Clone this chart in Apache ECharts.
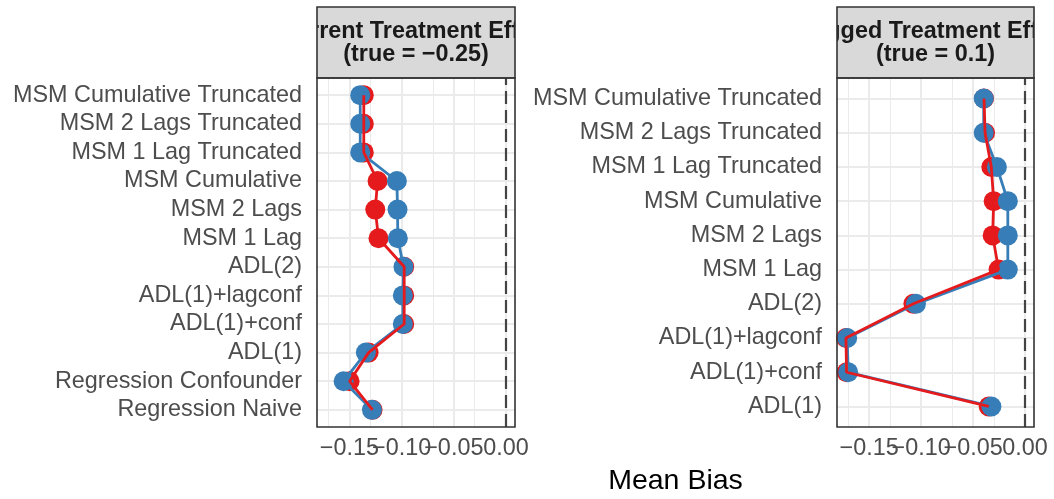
<!DOCTYPE html>
<html>
<head>
<meta charset="utf-8">
<script src="https://cdn.jsdelivr.net/npm/echarts@6.0.0/dist/echarts.min.js"></script>
<style>html,body{margin:0;padding:0;background:#fff}#chart{width:1054px;height:499px}</style>
</head>
<body>
<div id="chart"></div>
<script>
(()=>{
    "use strict";
    // categories listed bottom -> top
    const leftCategories = ["Regression Naive","Regression Confounder","ADL(1)","ADL(1)+conf","ADL(1)+lagconf","ADL(2)","MSM 1 Lag","MSM 2 Lags","MSM Cumulative","MSM 1 Lag Truncated","MSM 2 Lags Truncated","MSM Cumulative Truncated"];
    const leftRed  = [-0.1278,-0.1498,-0.1316,-0.0975,-0.0975,-0.0975,-0.1221,-0.1252,-0.1230,-0.1362,-0.1362,-0.1362];
    const leftBlue = [-0.1284,-0.1555,-0.1342,-0.0988,-0.0988,-0.0982,-0.1036,-0.1039,-0.1045,-0.1396,-0.1396,-0.1396];

    const rightCategories = ["ADL(1)","ADL(1)+conf","ADL(1)+lagconf","ADL(2)","MSM 1 Lag","MSM 2 Lags","MSM Cumulative","MSM 1 Lag Truncated","MSM 2 Lags Truncated","MSM Cumulative Truncated"];
    const rightRed  = [-0.0350,-0.1718,-0.1724,-0.1075,-0.0255,-0.0312,-0.0302,-0.0325,-0.0385,-0.0395];
    const rightBlue = [-0.0324,-0.1702,-0.1712,-0.1050,-0.0166,-0.0166,-0.0166,-0.0271,-0.0398,-0.0398];

    const panelTitles = [["Current Treatment Effect","(true = \u22120.25)"],["Lagged Treatment Effect","(true = 0.1)"]];
    const xMajor = [-0.15,-0.10,-0.05,0];
    const xMinor = [-0.175,-0.125,-0.075,-0.025];
    const xTickLabels = ["\u22120.15","\u22120.10","\u22120.05","0.00"];
    const refLine = 0;
    const xLimits = [-0.181, 0.0086];
    const axisTitle = "Mean Bias";

    const RED = "#E41A1C", BLUE = "#377EB8";
    const FONT = '"Liberation Sans", Arial, Helvetica, sans-serif';
    const panels = [
        {left:317, right:515, cats:leftCategories, red:leftRed, blue:leftBlue},
        {left:837, right:1034, cats:rightCategories, red:rightRed, blue:rightBlue}
    ];
    const TOP = 78, BOTTOM = 427, STRIP_TOP = 7;

    const pts = vals => vals.map((v,i)=>[v,i]);
    const tickFmt = v => {
        const k = xMajor.findIndex(m => Math.abs(m - v) < 1e-9);
        return k < 0 ? "" : xTickLabels[k];
    };
    // the tick labels touch each other in the original, so they are split over two
    // stacked axes (even / odd breaks) to stop ECharts from dropping any of them
    const evenBreaks = xMajor.filter((v,k) => k % 2 === 0);
    const oddBreaks = xMajor.filter((v,k) => k % 2 === 1);
    const labelStyle = {color:"#4D4D4D", fontSize:23.4, fontFamily:FONT, hideOverlap:false, showMinLabel:true, showMaxLabel:true};

    let grids = [], xAxes = [], yAxes = [], series = [], graphics = [];
    panels.forEach((p, i) => {
        const n = p.cats.length;
        const idx = p.cats.map((c,k)=>k);
        grids.push({left:p.left, width:p.right-p.left, top:TOP, height:BOTTOM-TOP, containLabel:false});
        xAxes.push({gridIndex:i, type:"value", min:xLimits[0], max:xLimits[1],
            axisLine:{show:false}, splitLine:{show:false},
            axisTick:{show:true, length:7, customValues:xMajor, lineStyle:{color:"#333333", width:1.6}},
            axisLabel:Object.assign({customValues:evenBreaks, formatter:tickFmt, margin:10}, labelStyle)});
        yAxes.push({gridIndex:i, type:"value", min:-0.6, max:n-0.4,
            axisLine:{show:false}, splitLine:{show:false},
            axisTick:{show:true, length:7, customValues:idx, lineStyle:{color:"#333333", width:1.6}},
            axisLabel:Object.assign({customValues:idx, formatter:v => p.cats[Math.round(v)] || "", margin:15}, labelStyle)});

        const gridLines = []
            .concat(xMinor.map(v => ({xAxis:v, lineStyle:{color:"#EBEBEB", width:1, type:"solid"}})))
            .concat(xMajor.map(v => ({xAxis:v, lineStyle:{color:"#EBEBEB", width:2, type:"solid"}})))
            .concat(idx.map(v => ({yAxis:v, lineStyle:{color:"#EBEBEB", width:2, type:"solid"}})))
            .concat([{xAxis:refLine, lineStyle:{color:"#444444", width:2.2, type:[13,6]}}]);

        series.push({type:"scatter", xAxisIndex:i, yAxisIndex:i, data:pts(p.red), symbolSize:20, z:2,
            itemStyle:{color:RED, opacity:1}, silent:true,
            markLine:{z:1, silent:true, symbol:["none","none"], label:{show:false}, animation:false, data:gridLines}});
        series.push({type:"scatter", xAxisIndex:i, yAxisIndex:i, data:pts(p.blue), symbolSize:20, z:3,
            itemStyle:{color:BLUE, opacity:1}, silent:true});
        series.push({type:"line", xAxisIndex:i, yAxisIndex:i, data:pts(p.blue), symbol:"none", z:4, clip:false,
            lineStyle:{color:BLUE, width:2.8}, silent:true});
        series.push({type:"line", xAxisIndex:i, yAxisIndex:i, data:pts(p.red), symbol:"none", z:5, clip:false,
            lineStyle:{color:RED, width:2.8}, silent:true});

        // facet strip
        const w = p.right - p.left, cx = (p.left + p.right) / 2;
        graphics.push({type:"rect", z:10, shape:{x:p.left, y:STRIP_TOP, width:w, height:TOP-STRIP_TOP}, style:{fill:"#D9D9D9"}});
        graphics.push({type:"text", z:11, style:{text:panelTitles[i][0], x:cx, y:32, fill:"#1A1A1A",
            font:"bold 23.4px " + FONT, align:"center", verticalAlign:"middle", textAlign:"center", textVerticalAlign:"middle"}});
        graphics.push({type:"text", z:11, style:{text:panelTitles[i][1], x:cx, y:55, fill:"#1A1A1A",
            font:"bold 23.4px " + FONT, align:"center", verticalAlign:"middle", textAlign:"center", textVerticalAlign:"middle"}});
        graphics.push({type:"rect", z:12, shape:{x:p.left-90, y:0, width:90, height:TOP-1}, style:{fill:"#FFFFFF"}});
        graphics.push({type:"rect", z:12, shape:{x:p.right, y:0, width:90, height:TOP-1}, style:{fill:"#FFFFFF"}});
        graphics.push({type:"rect", z:13, shape:{x:p.left, y:STRIP_TOP, width:w, height:TOP-STRIP_TOP}, style:{fill:"none", stroke:"#333333", lineWidth:1.6}});
        graphics.push({type:"rect", z:13, shape:{x:p.left, y:TOP, width:w, height:BOTTOM-TOP}, style:{fill:"none", stroke:"#333333", lineWidth:1.6}});
    });

    // second, label-only axes laid over the same panels
    panels.forEach((p, i) => {
        const g = panels.length + i;
        grids.push({left:p.left, width:p.right-p.left, top:TOP, height:BOTTOM-TOP, containLabel:false});
        xAxes.push({gridIndex:g, type:"value", min:xLimits[0], max:xLimits[1],
            axisLine:{show:false}, splitLine:{show:false}, axisTick:{show:false},
            axisLabel:Object.assign({customValues:oddBreaks, formatter:tickFmt, margin:10}, labelStyle)});
        yAxes.push({gridIndex:g, type:"value", min:0, max:1, show:false});
    });

    graphics.push({type:"text", z:11, style:{text:axisTitle, x:(panels[0].left+panels[1].right)/2, y:481, fill:"#000000",
        font:"28.5px " + FONT, align:"center", verticalAlign:"middle", textAlign:"center", textVerticalAlign:"middle"}});

    const chart = echarts.init(document.getElementById("chart"), null, {renderer:"canvas"});
    chart.setOption({
        animation:false,
        backgroundColor:"#FFFFFF",
        grid:grids, xAxis:xAxes, yAxis:yAxes, series:series, graphic:graphics
    });
})();
</script>
</body>
</html>
